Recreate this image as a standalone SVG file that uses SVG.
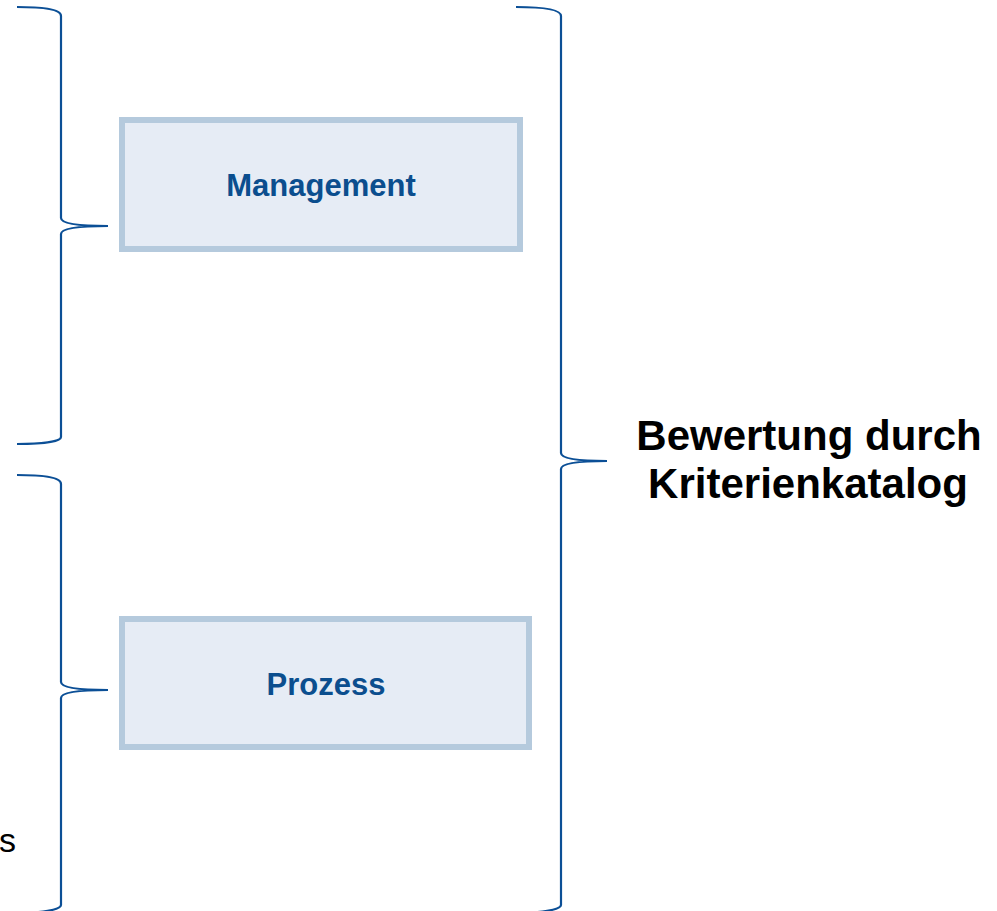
<svg xmlns="http://www.w3.org/2000/svg" width="997" height="911" viewBox="0 0 997 911">
<style>
.brace{fill:none;stroke:#0B4F96;stroke-width:2.2}
.box{fill:#E6ECF5;stroke:#B5CADD;stroke-width:6}
.lbl{font-family:"Liberation Sans",Arial,sans-serif;font-weight:bold;font-size:31px;fill:#0B4E8E;text-anchor:middle}
.big{font-family:"Liberation Sans",Arial,sans-serif;font-weight:bold;font-size:42px;fill:#000;text-anchor:middle}
.plain{font-family:"Liberation Sans",Arial,sans-serif;font-size:34px;fill:#000}
</style>
<rect width="997" height="911" fill="#fff"/>
<g id="connectors">
<path class="brace" d="M17,7 C40,7 61,9 61,16 L61,218 C61,224 80,226 108,226 C80,226 61,228 61,234 L61,437 C61,442 40,444 17,444"/>
<path class="brace" d="M17,475 C40,475 61,477 61,484 L61,682 C61,688 80,690 108,690 C80,690 61,692 61,698 L61,905 C61,910 40,913 17,913"/>
<path class="brace" d="M516,7 C539,7 561,9 561,16 L561,453 C561,459 580,461 607,461 C580,461 561,463 561,469 L561,905 C561,910 539,913 516,913"/>
</g>
<g id="management">
<rect class="box" x="122" y="120" width="398" height="129"/>
<text class="lbl" x="321" y="196">Management</text>
</g>
<g id="prozess">
<rect class="box" x="122" y="619" width="407" height="128"/>
<text class="lbl" x="326" y="695">Prozess</text>
</g>
<g id="bewertung">
<text class="big" x="809" y="450">Bewertung durch</text>
<text class="big" x="808" y="498">Kriterienkatalog</text>
</g>
<g id="cut-text">
<text class="plain" x="-1" y="852">s</text>
</g>
</svg>
